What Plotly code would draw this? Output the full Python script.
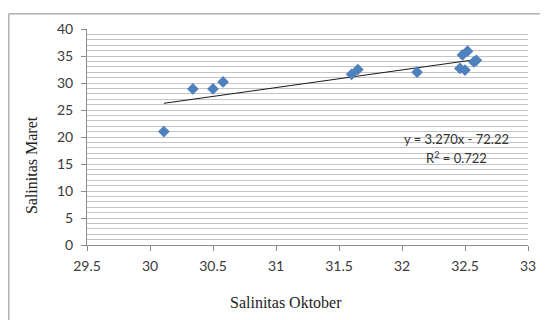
import plotly.graph_objects as go

# Data
oktober = [30.11, 30.34, 30.50, 30.58, 31.60, 31.65, 32.12, 32.46, 32.50, 32.48, 32.52, 32.57, 32.59]
maret = [21.0, 28.9, 28.9, 30.2, 31.6, 32.5, 32.0, 32.7, 32.4, 35.2, 35.9, 33.9, 34.2]
slope = 3.270
intercept = -72.22
r2 = 0.722
x_ticks = [29.5, 30, 30.5, 31, 31.5, 32, 32.5, 33]
y_ticks = [0, 5, 10, 15, 20, 25, 30, 35, 40]

trend_x = [min(oktober), max(oktober)]
trend_y = [slope * v + intercept for v in trend_x]

# page body has an 8px margin; work in absolute window pixels and convert
OFF = 8
W, H = 548 - OFF, 320 - OFF
L, R, T, B = 87 - OFF, 18, 24 - OFF, 75
pw, ph = W - L - R, H - T - B


def px(xabs):
    return (xabs - OFF - L) / pw


def py(yabs):
    return (H - B - (yabs - OFF)) / ph


fig = go.Figure()
fig.add_trace(go.Scatter(x=trend_x, y=trend_y, mode="lines",
                         line=dict(color="#1a1a1a", width=1), hoverinfo="skip"))
fig.add_trace(go.Scatter(x=oktober, y=maret, mode="markers",
                         marker=dict(symbol="diamond", size=9, color="#4F81BD",
                                     line=dict(width=0))))

tickfont = dict(family="Lato", size=14, color="#3a3a3a")
fig.update_xaxes(range=[29.5, 33], tickvals=x_ticks, ticktext=[f"{v:g}" for v in x_ticks],
                 showgrid=False, zeroline=False, showline=True, linecolor="#8c8c8c",
                 ticks="outside", ticklen=5, tickcolor="#8c8c8c", tickfont=tickfont,
                 ticklabelstandoff=3)
fig.update_yaxes(range=[0, 40], tickvals=y_ticks, showgrid=True, gridcolor="#c4c4c4",
                 gridwidth=1, zeroline=False, showline=True, linecolor="#8c8c8c",
                 ticks="outside", ticklen=5, tickcolor="#8c8c8c", tickfont=tickfont,
                 ticklabelstandoff=5,
                 minor=dict(dtick=1, showgrid=True, gridcolor="#c4c4c4", gridwidth=1, ticks=""))

titlefont = dict(family="Liberation Serif", size=16, color="#222222")
annofont = dict(family="Lato", size=13, color="#333333")
annotations = [
    dict(x=px(287), y=py(304), xref="paper", yref="paper", text="Salinitas Oktober",
         showarrow=False, font=titlefont, xanchor="center", yanchor="middle"),
    dict(x=px(32), y=py(163), xref="paper", yref="paper", text="Salinitas Maret",
         showarrow=False, font=titlefont, textangle=-90, xanchor="center", yanchor="middle"),
    dict(x=px(458), y=py(137), xref="paper", yref="paper",
         text=f"y = {slope:.3f}x - {abs(intercept):.2f}",
         showarrow=False, font=annofont, xanchor="center", yanchor="middle"),
    dict(x=px(458), y=py(155), xref="paper", yref="paper",
         text=f"R<sup>2</sup> = {r2:.3f}",
         showarrow=False, font=annofont, xanchor="center", yanchor="middle"),
]

shapes = [
    dict(type="line", xref="paper", yref="paper", x0=px(8.5), x1=px(560), y0=py(8.5), y1=py(8.5),
         line=dict(color="#8a8a8a", width=1)),
    dict(type="line", xref="paper", yref="paper", x0=px(8.5), x1=px(8.5), y0=py(8.5), y1=py(330),
         line=dict(color="#8a8a8a", width=1)),
]

fig.update_layout(width=W, height=H, margin=dict(l=L, r=R, t=T, b=B),
                  paper_bgcolor="white", plot_bgcolor="white", showlegend=False,
                  annotations=annotations, shapes=shapes)

fig.write_html("out.html")
